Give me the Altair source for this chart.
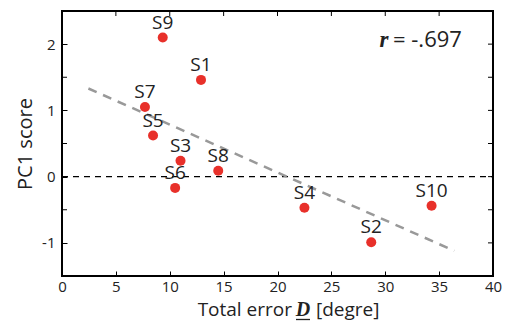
import altair as alt
import pandas as pd

# ---- data ----
names = ["S1", "S2", "S3", "S4", "S5", "S6", "S7", "S8", "S9", "S10"]
total_error = [12.9, 28.7, 11.0, 22.5, 8.45, 10.5, 7.7, 14.5, 9.35, 34.3]
pc1_score = [1.46, -0.99, 0.24, -0.47, 0.62, -0.17, 1.05, 0.09, 2.10, -0.44]

fit_x = [2.45, 36.4]
fit_y = [1.33, -1.12]

x_ticks = [0, 5, 10, 15, 20, 25, 30, 35, 40]
y_ticks = [-1, 0, 1, 2]
y_half_ticks = [-0.5, 0.5, 1.5]
x_inner_ticks = [5, 10, 15, 20, 25, 30, 35]
y_inner_ticks = [-1.0, -0.5, 0.0, 0.5, 1.0, 1.5, 2.0]

W, H = 431, 265
FONT = "Open Sans"
TXT = "#222222"

pts = pd.DataFrame({"name": names, "x": total_error, "y": pc1_score})
fit = pd.DataFrame({"x": fit_x, "y": fit_y})
zero = pd.DataFrame({"x": [0, 40], "y": [0, 0]})
xt = pd.DataFrame({"x": x_inner_ticks})
yt = pd.DataFrame({"y": y_inner_ticks})
yh = pd.DataFrame({"y": y_half_ticks})

xscale = alt.Scale(domain=[0, 40], nice=False, zero=False)
yscale = alt.Scale(domain=[-1.5, 2.5], nice=False, zero=False)

xaxis = alt.Axis(values=x_ticks, tickSize=5, offset=-5, labelPadding=3,
                 title=None, labelFlush=False, format="d")
yaxis = alt.Axis(values=y_ticks, tickSize=5, offset=-5, labelPadding=7,
                 labelExpr="replace(datum.label, '\u2212', '-')",
                 title="PC1 score", titlePadding=6, titleFontSize=20,
                 titleFont=FONT, titleFontWeight="normal", titleColor=TXT)

X = alt.X("x:Q", scale=xscale, axis=xaxis)
Y = alt.Y("y:Q", scale=yscale, axis=yaxis)

zero_line = alt.Chart(zero).mark_line(color="black", strokeWidth=1.2,
                                      strokeDash=[6, 5]).encode(x=X, y=Y)

fit_line = alt.Chart(fit).mark_line(color="#999999", strokeWidth=2.5,
                                    strokeDash=[9, 7]).encode(x=X, y=Y)

dots = alt.Chart(pts).mark_circle(color="#e8302a", opacity=1, size=100).encode(x=X, y=Y)

labels = alt.Chart(pts).mark_text(font=FONT, fontSize=19, color=TXT,
                                  baseline="alphabetic", dy=-9).encode(
    x=X, y=Y, text="name:N")

top_ticks = alt.Chart(xt).mark_rule(color="black", strokeWidth=1).encode(
    x=X, y=alt.value(0), y2=alt.value(5))
right_ticks = alt.Chart(yt).mark_rule(color="black", strokeWidth=1).encode(
    y=Y, x=alt.value(W), x2=alt.value(W - 5))
left_half_ticks = alt.Chart(yh).mark_rule(color="black", strokeWidth=1).encode(
    y=Y, x=alt.value(0), x2=alt.value(5))

one = pd.DataFrame({"a": [0]})

def note(text, x, y, align="left", size=20, font=FONT, weight="normal", style="normal"):
    return alt.Chart(pd.DataFrame({"t": [text]})).mark_text(
        font=font, fontSize=size, color=TXT, align=align, baseline="alphabetic",
        fontWeight=weight, fontStyle=style).encode(
        x=alt.value(x), y=alt.value(y), text="t:N")

r_sym = note("r", 322, 36, align="center", size=23, font="Liberation Serif",
             weight="bold", style="italic")
r_val = note("= -.697", 331, 36, align="left", size=22)

xt1 = note("Total error", 230, 305, align="right", size=19)
xt2 = note("D", 241, 305, align="center", size=20, font="Liberation Serif",
           weight="bold", style="italic")
xt3 = note("[degre]", 254, 305, align="left", size=19)
underline = alt.Chart(one).mark_rule(color=TXT, strokeWidth=1.3).encode(
    x=alt.value(234), x2=alt.value(248), y=alt.value(308.5))

chart = alt.layer(
    zero_line, fit_line, top_ticks, right_ticks, left_half_ticks, dots, labels,
    r_sym, r_val, xt1, xt2, xt3, underline
).properties(
    width=W, height=H,
    autosize=alt.AutoSizeParams(type="none"),
    padding={"left": 54, "top": 3, "right": 9, "bottom": 46},
    background="white",
).configure_view(
    stroke="black", strokeWidth=2
).configure_axis(
    grid=False, domain=False, labelFont=FONT, labelFontSize=15,
    labelColor=TXT, tickColor="black", tickWidth=1
)

chart.save("out.html", embed_options={"renderer": "svg", "actions": False})
